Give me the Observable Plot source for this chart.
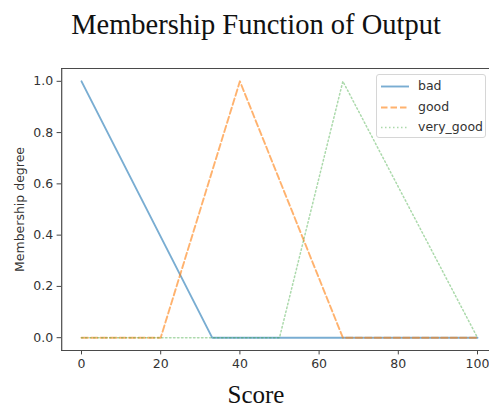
<!DOCTYPE html>
<html><head><meta charset="utf-8">
<script src="https://cdn.jsdelivr.net/npm/d3@7"></script>
<script src="https://cdn.jsdelivr.net/npm/@observablehq/plot@0.6"></script>
<style>
body{margin:0;background:#fff;}
#wrap{position:relative;width:489px;height:412px;overflow:hidden;background:#fff;}
#title{position:absolute;left:0;top:11px;width:512px;text-align:center;font-family:"Liberation Serif",serif;font-size:28.5px;line-height:28px;color:#111;white-space:nowrap;}
#xlabel{position:absolute;left:0;top:382px;width:512px;text-align:center;font-family:"Liberation Serif",serif;font-size:25px;line-height:25px;color:#111;}
#legend{position:absolute;left:376px;top:74px;width:108px;height:62px;border:1px solid #d6d6d6;border-radius:3px;background:rgba(255,255,255,0.8);font-family:"DejaVu Sans",sans-serif;font-size:12.5px;color:#333;}
#legend .row{position:absolute;left:0;height:16px;line-height:16px;}
#legend svg{position:absolute;left:3px;top:0;}
#legend span{position:absolute;left:41px;white-space:nowrap;}
</style></head>
<body>
<div id="wrap">
  <div id="chart"></div>
  <div id="title">Membership Function of Output</div>
  <div id="xlabel">Score</div>
  <div id="legend"></div>
</div>
<script>
const series = ["bad", "good", "very_good"];
const badX = [0, 33, 100];
const badY = [1, 0, 0];
const goodX = [0, 20, 40, 66, 100];
const goodY = [0, 0, 1, 0, 0];
const veryGoodX = [0, 50, 66, 100];
const veryGoodY = [0, 0, 1, 0];
const xTicks = [0, 20, 40, 60, 80, 100];
const yTicks = [0, 0.2, 0.4, 0.6, 0.8, 1.0];
const xDomain = [-5, 105];
const yDomain = [-0.05, 1.05];

const styles = {
  bad: {stroke: "#1f77b4", strokeOpacity: 0.6, strokeWidth: 1.9, strokeDasharray: null},
  good: {stroke: "#ff7f0e", strokeOpacity: 0.6, strokeWidth: 1.9, strokeDasharray: "6.5,3"},
  very_good: {stroke: "#2ca02c", strokeOpacity: 0.4, strokeWidth: 1.5, strokeDasharray: "1.5,2.5"}
};
const toRows = (xs, ys) => xs.map((x, i) => ({x, y: ys[i]}));
const data = {
  bad: toRows(badX, badY),
  good: toRows(goodX, goodY),
  very_good: toRows(veryGoodX, veryGoodY)
};

const plot = Plot.plot({
  width: 489, height: 412,
  marginTop: 68, marginBottom: 62, marginLeft: 61, marginRight: 0,
  style: {fontFamily: "DejaVu Sans, sans-serif", fontSize: "12.5px", color: "#333", background: "white", overflow: "hidden"},
  x: {domain: xDomain, range: [61.2, 496.8]},
  y: {domain: yDomain},
  marks: [
    Plot.axisX({ticks: xTicks, tickSize: 4.4, tickPadding: 4, label: null, stroke: "#444"}),
    Plot.axisY({ticks: yTicks, tickFormat: ".1f", tickSize: 4.4, tickPadding: 4, label: "Membership degree", labelAnchor: "center", labelArrow: "none", labelOffset: 46, stroke: "#444"}),
    ...series.map(s => Plot.line(data[s], {x: "x", y: "y", ...styles[s]})),
    Plot.ruleY([yDomain[0], yDomain[1]], {stroke: "#4a4a4a", strokeWidth: 1.2}),
    Plot.ruleX([xDomain[0]], {stroke: "#4a4a4a", strokeWidth: 1.2})
  ]
});
document.getElementById("chart").appendChild(plot);

const legend = document.getElementById("legend");
series.forEach((s, i) => {
  const row = document.createElement("div");
  row.className = "row";
  row.style.top = (3 + i * 20.5) + "px";
  row.style.width = "108px";
  const st = styles[s];
  row.innerHTML = `<svg width="30" height="16"><line x1="1" x2="29" y1="8.5" y2="8.5" stroke="${st.stroke}" stroke-opacity="${st.strokeOpacity}" stroke-width="${st.strokeWidth}" ${st.strokeDasharray ? `stroke-dasharray="${st.strokeDasharray}"` : ""}/></svg><span>${s}</span>`;
  legend.appendChild(row);
});
</script>
</body></html>
